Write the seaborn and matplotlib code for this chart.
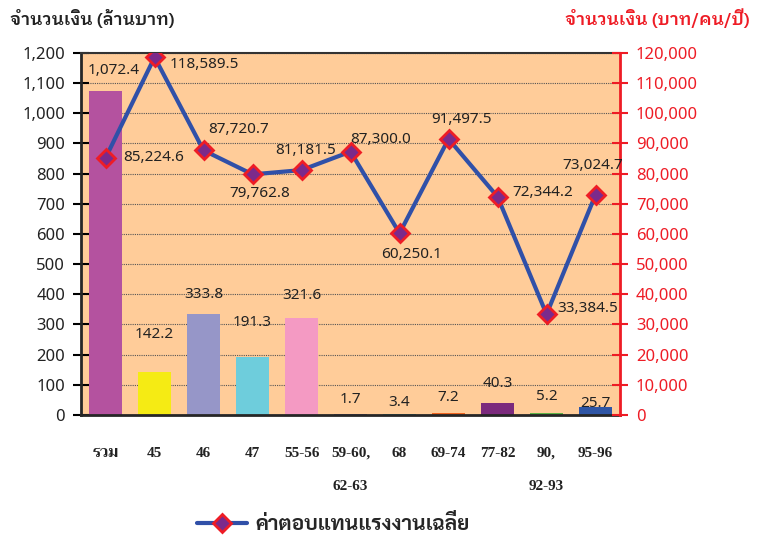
import numpy as np
import matplotlib
matplotlib.use('Agg')
import matplotlib.pyplot as plt
from matplotlib.lines import Line2D
from matplotlib.ticker import FuncFormatter, MultipleLocator
import seaborn as sns

# ข้อมูล
categories = ['รวม', '45', '46', '47', '55-56', '59-60, 62-63', '68', '69-74', '77-82', '90, 92-93', '95-96']
tick_labels = ['รวม', '45', '46', '47', '55-56', '59-60,\n62-63', '68', '69-74', '77-82', '90,\n92-93', '95-96']
amount_mb = [1072.4, 142.2, 333.8, 191.3, 321.6, 1.7, 3.4, 7.2, 40.3, 5.2, 25.7]
wage = [85224.6, 118589.5, 87720.7, 79762.8, 81181.5, 87300.0, 60250.1, 91497.5, 72344.2, 33384.5, 73024.7]
bar_colors = ['#B4529F', '#F5EB14', '#9696C8', '#6ECDDC', '#F49AC3', '#8064A2',
              '#33B2B8', '#F0641E', '#7B2A7D', '#5DB346', '#2E55A5']

# ตำแหน่ง label (pt)
bar_label_off = [(6, 15), (0, 27), (0, 14), (0, 25), (0, 16), (0, 11),
                 (0, 8), (0, 11), (0, 14), (0, 12), (0, 3)]
wage_label_off = [(13, 0), (11, -5), (25, 15), (5, -14), (3, 14), (22, 9),
                  (9, -15), (9, 14), (11, 3), (8, 4), (-2, 21)]
wage_label_ha = ['left', 'left', 'center', 'center', 'center', 'center',
                 'center', 'center', 'left', 'left', 'center']

sns.set_style('white')
plt.rcParams['font.family'] = ['Noto Sans', 'Noto Sans Thai Looped', 'DejaVu Sans']

fig = plt.figure(figsize=(7.65, 5.4), dpi=100)
ax = fig.add_axes([0.106, 0.2315, 0.7045, 0.6704])
ax.set_facecolor('#FFCC99')

sns.barplot(x=categories, y=amount_mb, hue=categories, palette=bar_colors,
            legend=False, width=0.67, saturation=1, linewidth=0, ax=ax)
ax.set_xlim(-0.5, len(categories) - 0.5)
ax.set_ylim(0, 1200)
ax.yaxis.set_major_locator(MultipleLocator(100))
ax.yaxis.set_major_formatter(FuncFormatter(lambda v, p: f'{v:,.0f}'))
ax.yaxis.grid(True, linestyle=(0, (1, 1)), color='#555555', linewidth=0.8)
ax.set_axisbelow(True)

for i, v in enumerate(amount_mb):
    ax.annotate(f'{v:,.1f}', (i, v), xytext=bar_label_off[i], textcoords='offset points',
                ha='center', va='center', fontsize=11, color='#222222')

# แกนขวา
ax2 = ax.twinx()
sns.lineplot(x=categories, y=wage, sort=False, color='#3050A8', linewidth=3,
             marker='D', markersize=9, markerfacecolor='#7B2A8B',
             markeredgecolor='#EE1C25', markeredgewidth=2, ax=ax2, zorder=5)
ax2.set_ylim(0, 120000)
ax2.yaxis.set_major_locator(MultipleLocator(10000))
ax2.yaxis.set_major_formatter(FuncFormatter(lambda v, p: f'{v:,.0f}'))
for i, v in enumerate(wage):
    ax2.annotate(f'{v:,.1f}', (i, v), xytext=wage_label_off[i], textcoords='offset points',
                 ha=wage_label_ha[i], va='center', fontsize=11, color='#222222')

# ticks / spines
ax.set_xticks(range(len(categories)))
ax.set_xticklabels(tick_labels, family=['Liberation Serif', 'Trirong', 'DejaVu Serif'],
                   fontweight='bold', fontsize=11, color='#222222', linespacing=3.0)
ax.set_xticks(np.arange(-0.5, len(categories), 1), minor=True)
ax.tick_params(axis='x', which='major', length=0, pad=23)
ax.tick_params(axis='x', which='minor', length=7, width=1.5, color='black', direction='out')
ax.tick_params(axis='y', length=11, width=1.5, color='black', direction='inout',
               labelsize=12, labelcolor='#222222', pad=6)
ax2.tick_params(axis='y', length=11, width=1.5, color='#EE1C25', direction='inout',
                labelsize=12, labelcolor='#EE1C25', pad=6)
ax.set_xlabel('')
ax.set_ylabel('')
ax2.set_ylabel('')

ax.spines['left'].set_linewidth(2)
ax.spines['bottom'].set_linewidth(2)
ax.spines['top'].set_linewidth(1.5)
ax.spines['top'].set_color('#333333')
ax.spines['right'].set_visible(False)
for s in ['left', 'bottom', 'top']:
    ax2.spines[s].set_visible(False)
ax2.spines['right'].set_color('#EE1C25')
ax2.spines['right'].set_linewidth(2)

# ชื่อแกน
title_font = ['IBM Plex Sans Thai Looped', 'DejaVu Sans']
fig.text(10 / 765, 1 - 18 / 540, 'จำนวนเงิน (ล้านบาท)', ha='left', va='center',
         fontsize=12.5, fontweight='semibold', color='#222222', family=title_font)
fig.text(750 / 765, 1 - 18 / 540, 'จำนวนเงิน (บาท/คน/ปี)', ha='right', va='center',
         fontsize=12.5, fontweight='semibold', color='#EE1C25', family=title_font)

# legend
h = Line2D([], [], color='#3050A8', linewidth=3, marker='D', markersize=9,
           markerfacecolor='#7B2A8B', markeredgecolor='#EE1C25', markeredgewidth=2)
fig.legend(handles=[h], labels=['ค่าตอบแทนแรงงานเฉลี่ย'], loc='center left',
           bbox_to_anchor=(178 / 765, 1 - 525 / 540), frameon=False, handlelength=2.4,
           handletextpad=0.4, prop={'family': ['Sarabun', 'DejaVu Sans'], 'weight': 'bold', 'size': 15})

fig.savefig('out.png', dpi=100)
